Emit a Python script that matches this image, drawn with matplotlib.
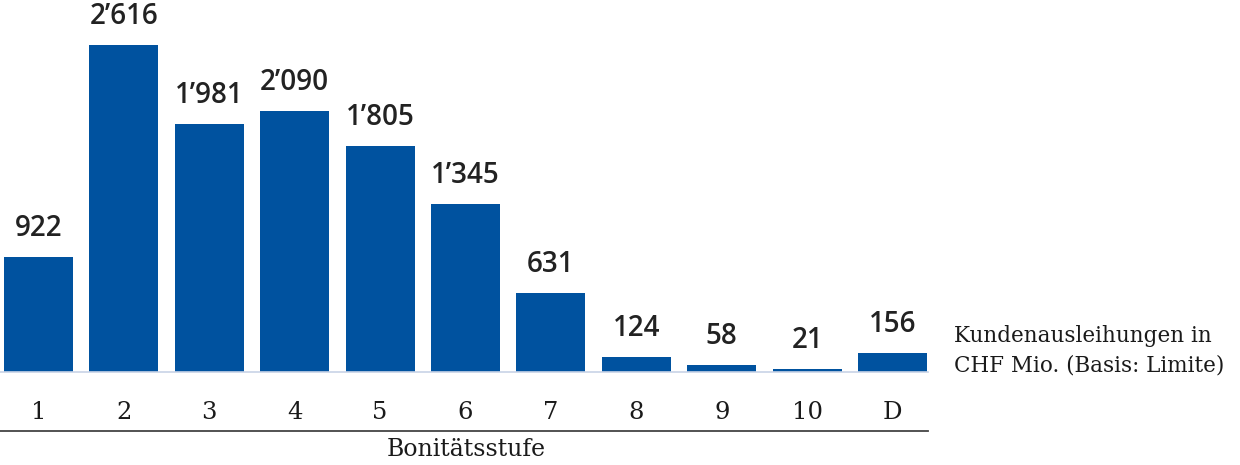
from matplotlib import pyplot as plt
from matplotlib.lines import Line2D
import matplotlib
matplotlib.use('agg')
import numpy as np

stufen = ['1', '2', '3', '4', '5', '6', '7', '8', '9', '10', 'D']
volumen = [922, 2616, 1981, 2090, 1805, 1345, 631, 124, 58, 21, 156]
werte_text = ['922', '2’616', '1’981', '2’090', '1’805', '1’345', '631', '124', '58', '21', '156']

blau = '#00529f'
W, H = 1240, 465

fig = plt.figure(figsize=(W / 100, H / 100), dpi=100)

# axes geometry in pixels
step = 85.4
c0 = 38.5
base_y = 372
scale = 0.125  # px per CHF Mio.
ax_right = 930
x_left = -c0 / step
x_right = (ax_right - c0) / step

ax = fig.add_axes([0, (H - base_y) / H, ax_right / W, base_y / H])
x = np.arange(len(stufen))
ax.bar(x, volumen, width=0.81, color=blau)
ax.set_xlim(x_left, x_right)
ax.set_ylim(0, base_y / scale)

for xi, v, t in zip(x, volumen, werte_text):
    ax.annotate(t, (xi, v), xytext=(0, 10), textcoords='offset points',
                ha='center', va='bottom', fontsize=20, color='#222222',
                family='Open Sans', weight='semibold')

ax.set_xticks(x)
ax.set_xticklabels(stufen, family='DejaVu Serif', fontsize=17.5, color='#1a1a1a')
ax.tick_params(axis='x', length=0, pad=21)
ax.set_yticks([])
for s in ['top', 'left', 'right']:
    ax.spines[s].set_visible(False)
ax.spines['bottom'].set_color('#c8d3e6')
ax.spines['bottom'].set_linewidth(1.2)
ax.spines['bottom'].set_bounds(x_left, 10.41)

# dark line under tick labels
ly = 1 - 431 / H
fig.add_artist(Line2D([0, 928 / W], [ly, ly], color='#444444', lw=1.3))

fig.text(466 / W, 1 - 449 / H, 'Bonitätsstufe', ha='center', va='center',
         family='DejaVu Serif', fontsize=17, color='#1a1a1a')

fig.text(954 / W, 1 - 351 / H, 'Kundenausleihungen in\nCHF Mio. (Basis: Limite)',
         ha='left', va='center', family='DejaVu Serif', fontsize=15.5,
         color='#1a1a1a', linespacing=1.42)

fig.savefig('out.png', dpi=100)
